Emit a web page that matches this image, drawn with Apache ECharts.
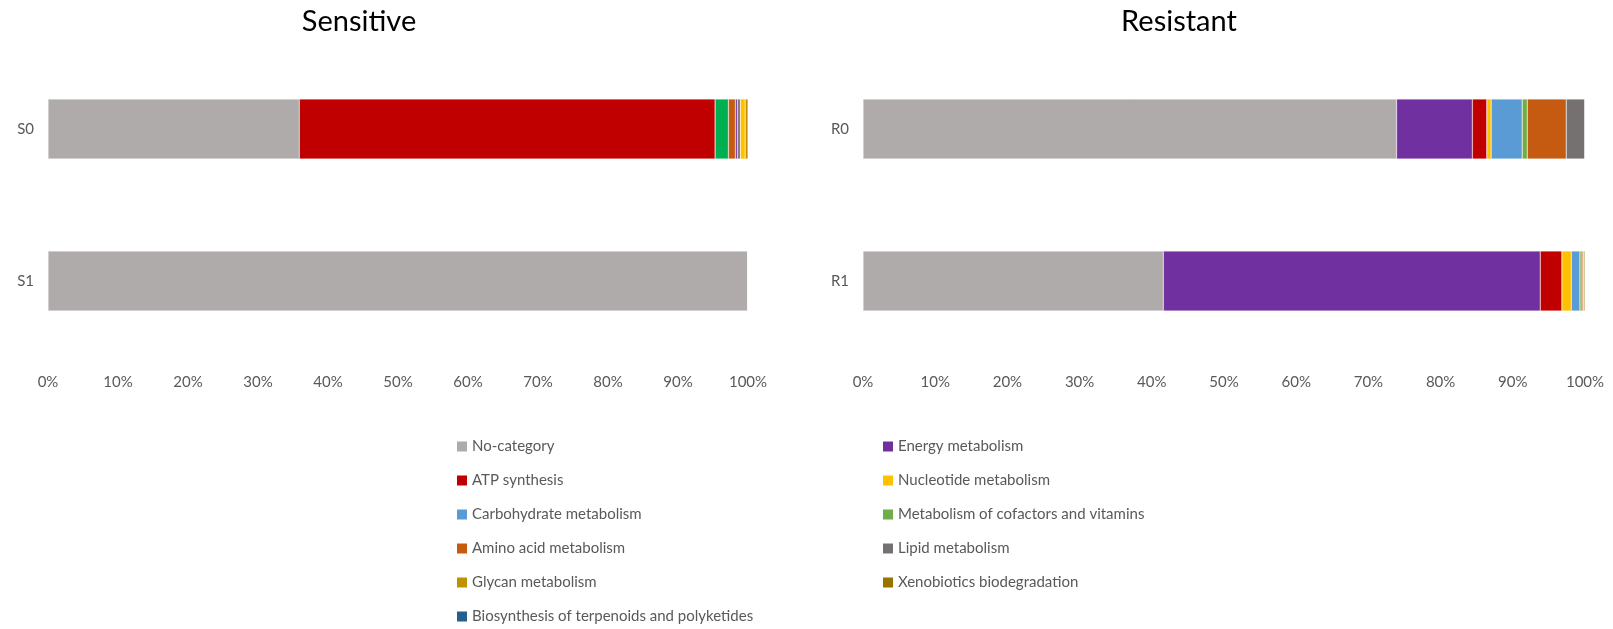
<!DOCTYPE html>
<html>
<head>
<meta charset="utf-8">
<script src="https://cdn.jsdelivr.net/npm/echarts@6/dist/echarts.min.js"></script>
<style>
    html, body { margin: 0; padding: 0; background: #fff; }
    #main { width: 1613px; height: 629px; }
</style>
</head>
<body>
<div id="main"></div>
<script>
// categories
var sensitiveCats = ['S0', 'S1'];
var resistantCats = ['R0', 'R1'];

// legend columns (left / right)
var legendLeft = ['No-category', 'ATP synthesis', 'Carbohydrate metabolism', 'Amino acid metabolism', 'Glycan metabolism', 'Biosynthesis of terpenoids and polyketides'];
var legendRight = ['Energy metabolism', 'Nucleotide metabolism', 'Metabolism of cofactors and vitamins', 'Lipid metabolism', 'Xenobiotics biodegradation'];

// Resistant (%), order R0, R1
var rNoCategory   = [73.9, 41.6];
var rEnergy       = [10.5, 52.2];
var rATP          = [2.0, 3.0];
var rNucleotide   = [0.6, 1.3];
var rCarbohydrate = [4.3, 1.2];
var rCofactors    = [0.7, 0.3];
var rAmino        = [5.4, 0.2];
var rLipid        = [2.6, 0];
var rGlycan       = [0, 0];
var rXeno         = [0, 0.2];
var rTerpenoids   = [0, 0];

// Sensitive (%), order S0, S1
var sNoCategory = [35.9, 100];
var sATP        = [59.4, 0];
var sCofactors  = [1.9, 0];
var sAmino      = [1.0, 0];
var sEnergy     = [0.3, 0];
var sLipid      = [0.4, 0];
var sNucleotide = [0.7, 0];
var sGlycan     = [0.4, 0];

var colors = {
    'No-category': '#AFABAB',
    'Energy metabolism': '#7030A0',
    'ATP synthesis': '#C00000',
    'Nucleotide metabolism': '#FFC000',
    'Carbohydrate metabolism': '#5B9BD5',
    'Metabolism of cofactors and vitamins': '#70AD47',
    'Amino acid metabolism': '#C55A11',
    'Lipid metabolism': '#767171',
    'Glycan metabolism': '#BF9000',
    'Xenobiotics biodegradation': '#997300',
    'Biosynthesis of terpenoids and polyketides': '#255E91'
};

var font = 'Lato, "Open Sans", sans-serif';
var grey = '#595959';

function bar(name, data, idx, color) {
    return {
        name: name,
        type: 'bar',
        stack: 'g' + idx,
        xAxisIndex: idx,
        yAxisIndex: idx,
        barWidth: 60,
        data: data,
        itemStyle: { color: color || colors[name], borderColor: 'rgba(255,255,255,0.6)', borderWidth: 0.5 },
        emphasis: { disabled: true }
    };
}

function valueAxis(idx) {
    return {
        gridIndex: idx, type: 'value', min: 0, max: 100, interval: 10,
        axisLine: { show: false }, axisTick: { show: false }, splitLine: { show: false },
        axisLabel: { formatter: '{value}%', color: grey, fontSize: 15, fontFamily: font, margin: 18 }
    };
}

function catAxis(idx, cats) {
    return {
        gridIndex: idx, type: 'category', data: cats, inverse: true,
        axisLine: { show: false }, axisTick: { show: false },
        axisLabel: { color: grey, fontSize: 15, fontFamily: font, margin: 14 }
    };
}

var legendStyle = {
    orient: 'vertical', top: 439, height: 200, padding: 0, itemGap: 19, icon: 'rect',
    itemWidth: 10, itemHeight: 10, itemStyle: { borderWidth: 0 },
    textStyle: { color: grey, fontSize: 15, fontFamily: font }
};

var myChart = echarts.init(document.getElementById('main'));
myChart.setOption({
    backgroundColor: '#fff',
    animation: false,
    title: [
        { text: 'Sensitive', left: 354, top: 2, textAlign: 'center',
          textStyle: { fontSize: 29, fontWeight: 'normal', color: '#000', fontFamily: font } },
        { text: 'Resistant', left: 1174, top: 2, textAlign: 'center',
          textStyle: { fontSize: 29, fontWeight: 'normal', color: '#000', fontFamily: font } }
    ],
    legend: [
        Object.assign({ left: 457, data: legendLeft }, legendStyle),
        Object.assign({ left: 883, data: legendRight }, legendStyle)
    ],
    grid: [
        { left: 48, width: 700, top: 53, height: 304 },
        { left: 863, width: 722, top: 53, height: 304 }
    ],
    xAxis: [valueAxis(0), valueAxis(1)],
    yAxis: [catAxis(0, sensitiveCats), catAxis(1, resistantCats)],
    series: [
        // resistant first so legend colours come from it
        bar('No-category', rNoCategory, 1),
        bar('Energy metabolism', rEnergy, 1),
        bar('ATP synthesis', rATP, 1),
        bar('Nucleotide metabolism', rNucleotide, 1),
        bar('Carbohydrate metabolism', rCarbohydrate, 1),
        bar('Metabolism of cofactors and vitamins', rCofactors, 1),
        bar('Amino acid metabolism', rAmino, 1),
        bar('Lipid metabolism', rLipid, 1),
        bar('Glycan metabolism', rGlycan, 1),
        bar('Xenobiotics biodegradation', rXeno, 1),
        bar('Biosynthesis of terpenoids and polyketides', rTerpenoids, 1),
        // sensitive
        bar('No-category', sNoCategory, 0),
        bar('ATP synthesis', sATP, 0),
        bar('Metabolism of cofactors and vitamins', sCofactors, 0, '#00B050'),
        bar('Amino acid metabolism', sAmino, 0),
        bar('Energy metabolism', sEnergy, 0),
        bar('Lipid metabolism', sLipid, 0),
        bar('Nucleotide metabolism', sNucleotide, 0),
        bar('Glycan metabolism', sGlycan, 0)
    ]
});
</script>
</body>
</html>
